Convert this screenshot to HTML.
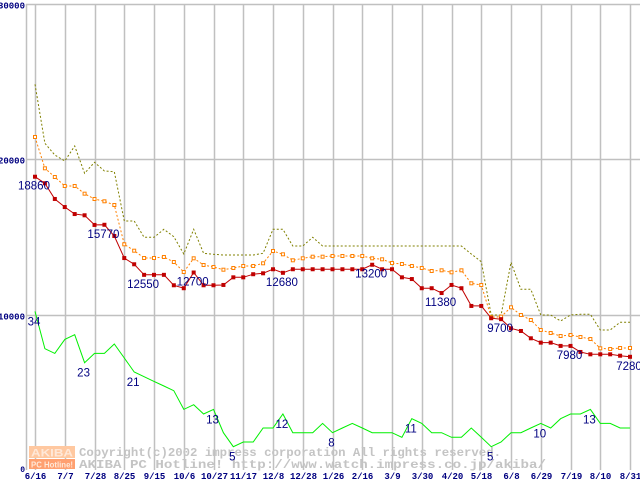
<!DOCTYPE html>
<html><head><meta charset="utf-8"><style>
html,body{margin:0;padding:0;background:#fff;}
svg{display:block;}
</style></head><body>
<svg id="chart" width="640" height="480" viewBox="0 0 640 480" xmlns="http://www.w3.org/2000/svg" font-family="Liberation Sans, sans-serif">
<g id="grid"></g>
<g id="watermark">
  <rect x="29" y="446" width="46" height="12" fill="#ffc8a0"/>
  <text x="52" y="456.5" text-anchor="middle" font-size="11" font-weight="bold" fill="#ffe8d8" textLength="42" lengthAdjust="spacingAndGlyphs">AKIBA</text>
  <rect x="29" y="459" width="46" height="10" fill="#ffa070"/>
  <text x="52" y="467.5" text-anchor="middle" font-size="8.5" font-weight="bold" fill="#ffe8d8" textLength="42" lengthAdjust="spacingAndGlyphs">PC Hotline!</text>
  <text x="79" y="456" font-family="Liberation Mono, monospace" font-size="12" font-weight="bold" fill="#c4c4c4" textLength="422" lengthAdjust="spacingAndGlyphs">Copyright(c)2002 impress corporation All rights reserved.</text>
  <text x="79" y="468" font-family="Liberation Mono, monospace" font-size="12" font-weight="bold" fill="#c4c4c4" textLength="467" lengthAdjust="spacingAndGlyphs">AKIBA PC Hotline!  http://www.watch.impress.co.jp/akiba/</text>
</g>
<g id="series"></g>
<g id="labels"></g>
</svg>
<script>
const xTickLabels = ["6/16","7/7","7/28","8/25","9/15","10/6","10/27","11/17","12/8","12/28","1/26","2/16","3/9","3/30","4/20","5/18","6/8","6/29","7/19","8/10","8/31"];
const yTickValues = [0,10000,20000,30000];
const minPrice = [18860,18440,17430,16910,16460,16380,15760,15770,15050,13630,13230,12550,12550,12550,11880,11690,12700,11880,11880,11900,12390,12390,12590,12650,12910,12680,12910,12910,12910,12910,12910,12910,12910,12910,13200,12910,12910,12390,12280,11690,11690,11380,11900,11690,10550,10550,9760,9700,9110,8940,8470,8190,8190,7980,7980,7590,7440,7440,7440,7350,7280];
const avgPrice = [21415,19402,18842,18264,18264,17770,17428,17280,17042,14514,14103,13633,13633,13698,13376,12733,13614,13183,13055,12881,12990,13119,13119,13293,14084,13871,13486,13614,13717,13717,13762,13762,13762,13762,13614,13550,13312,13248,13119,12990,12797,12842,12714,12842,12006,11897,9820,9859,10463,9968,9646,9003,8810,8617,8682,8553,8424,7826,7781,7846,7846];
const maxPrice = [24804,21010,20257,19871,20836,19080,19788,19228,19183,16013,16013,14965,14965,15479,15003,13891,15479,13936,13871,13826,13826,13826,13826,13936,15479,15479,14405,14405,14965,14405,14405,14405,14405,14405,14405,14405,14405,14405,14405,14405,14405,14405,14405,14405,13891,13395,9968,9968,13357,11621,11621,9968,9968,9582,9968,10013,10013,9003,9003,9498,9498];
const shopCount = [34,26,25,28,29,23,25,25,27,24,21,20,19,18,17,13,14,12,13,8,5,6,6,9,9,12,8,8,8,10,8,9,10,9,8,8,8,7,11,10,8,8,7,7,9,7,5,6,8,8,9,10,9,11,12,12,13,10,10,9,9];
const minLabelIdx = [0,7,11,16,25,34,41,47,54,60];
const countLabelIdx = [0,5,10,18,20,25,30,38,46,51,56];

const NS = "http://www.w3.org/2000/svg";
const X0 = 35, DX = 9.917, Y0 = 470, SY = 0.01555, SC = 4.665;
function xAt(i){ return X0 + i*DX; }
function yPrice(v){ return Y0 - v*SY; }
function yCount(c){ return Y0 - c*SC; }
function mk(tag, attrs, parent){
  const e = document.createElementNS(NS, tag);
  for (const k in attrs) e.setAttribute(k, attrs[k]);
  parent.appendChild(e);
  return e;
}
const grid = document.getElementById('grid');
const series = document.getElementById('series');
const labels = document.getElementById('labels');

// horizontal grid
yTickValues.forEach(v => {
  const y = Math.round(yPrice(v)) + 0.5;
  if (v > 0) {
    const l = mk('line', {x1:26, x2:640, y1:y, y2:y, stroke:'#c0c0c0', 'stroke-width':1.5}, grid);
    
    
  }
  const t = mk('text', {x:25, y: v===0 ? 472 : y+4, 'text-anchor':'end', 'font-size': v===0?8:9, 'font-weight':'bold', fill:'#000080', 'font-family':'Liberation Mono, monospace'}, grid);
  
  
  t.textContent = String(v);
});
// left axis
const ax = mk('line', {x1:26.5, x2:26.5, y1:4, y2:470, stroke:'#c0c0c0', 'stroke-width':1.5}, grid);


// vertical grid + x labels
xTickLabels.forEach((lab, k) => {
  const x = Math.round(xAt(k*3)) + 0.5;
  const l = mk('line', {x1:x, x2:x, y1:4, y2:470, stroke:'#c0c0c0', 'stroke-width':1.5}, grid);
  
  
  const t = mk('text', {x:x, y:479, 'text-anchor':'middle', 'font-size':9, 'font-weight':'bold', fill:'#000080', 'font-family':'Liberation Mono, monospace'}, grid);
  
  
  t.textContent = lab;
});

function pts(arr, f){ return arr.map((v,i)=> xAt(i).toFixed(1)+','+f(v).toFixed(1)).join(' '); }

// max price (olive dashed)
const pMax = mk('polyline', {points: pts(maxPrice, yPrice), fill:'none', stroke:'#808000', 'stroke-width':1, 'stroke-dasharray':'2,2'}, series);



// avg price (orange dashed + hollow squares)
const pAvg = mk('polyline', {points: pts(avgPrice, yPrice), fill:'none', stroke:'#ff8000', 'stroke-width':1, 'stroke-dasharray':'2,2'}, series);


avgPrice.forEach((v,i) => {
  const r = mk('rect', {x:xAt(i)-1.5, y:yPrice(v)-1.5, width:3, height:3, fill:'#fff', stroke:'#ff8000', 'stroke-width':1}, series);
  
  
});

// green count line
const pCnt = mk('polyline', {points: pts(shopCount, yCount), fill:'none', stroke:'#00f000', 'stroke-width':1}, series);



// min price (red + filled squares)
const pMin = mk('polyline', {points: pts(minPrice, yPrice), fill:'none', stroke:'#c00000', 'stroke-width':1}, series);


minPrice.forEach((v,i) => {
  const r = mk('rect', {x:xAt(i)-2, y:yPrice(v)-2, width:4, height:4, fill:'#c00000'}, series);
  
  
});

// value labels
minLabelIdx.forEach(i => {
  const t = mk('text', {x:xAt(i)-1, y:yPrice(minPrice[i])+13, 'text-anchor':'middle', 'font-size':11.5, fill:'#000080'}, labels);
  
  
  t.textContent = String(minPrice[i]);
});
countLabelIdx.forEach(i => {
  const t = mk('text', {x:xAt(i)-1, y:yCount(shopCount[i])+14, 'text-anchor':'middle', 'font-size':11.5, fill:'#000080'}, labels);
  
  
  t.textContent = String(shopCount[i]);
});
</script>
</body></html>
